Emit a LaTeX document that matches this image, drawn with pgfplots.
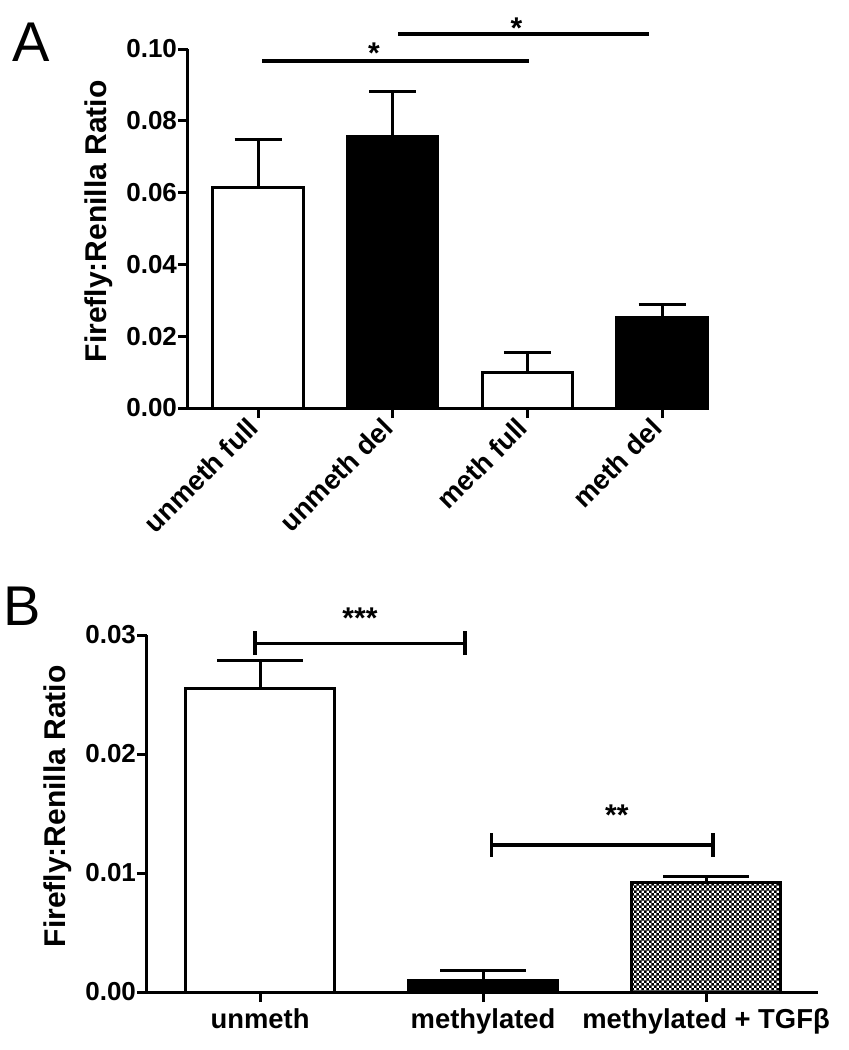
\documentclass[border=0pt]{standalone}
\usepackage{pgfplots}
\pgfplotsset{compat=1.18}
\usepackage{fontspec}
\setmainfont{Liberation Sans}
\usetikzlibrary{patterns.meta}

\tikzdeclarepattern{
  name=finecheck,
  bottom left={(0pt,0pt)},
  top right={(2.6pt,2.6pt)},
  tile size={(2.6pt,2.6pt)},
  code={
    \fill (0pt,0pt) rectangle (1.5pt,1.5pt);
    \fill (1.3pt,1.3pt) rectangle (2.8pt,2.8pt);
  }
}

\pgfplotsset{
  prism/.style={
    scale only axis,
    axis x line=bottom,
    axis y line=left,
    axis line style={-, line width=1.5pt},
    tick style={line width=1.5pt, black},
    major tick length=5pt,
    tick align=outside,
    ymin=0,
    clip=false,
    scaled ticks=false,
    /pgf/number format/assume math mode=true,
    yticklabel style={xshift=3pt, font=\bfseries\fontsize{13}{15}\selectfont,
      /pgf/number format/.cd, fixed, fixed zerofill, precision=2},
    xticklabel style={font=\bfseries\fontsize{13.7}{15}\selectfont},
    ylabel style={font=\bfseries\fontsize{15}{17}\selectfont,
      at={(axis description cs:0,0.52)}, anchor=center},
    error bars/error mark=|,
  },
  mybar/.style={ybar, bar shift=0pt, bar width=0.67, draw=black, line width=1.5pt,
    error bars/.cd, y dir=plus, y explicit,
    error bar style={line width=1.5pt}, /pgfplots/.cd},
  sig/.style={sharp plot, no marks, black, line width=1.8pt, forget plot},
}

\begin{document}
\begin{tikzpicture}
\path[use as bounding box] (0pt,0pt) rectangle (424.5pt,-525pt);

\node[font=\fontsize{28}{30}\selectfont] at (15.75pt,-21pt) {A};
\node[font=\fontsize{28}{30}\selectfont] at (11.25pt,-303pt) {B};

% panel A
\begin{axis}[prism,
  at={(94pt,-204pt)}, anchor=south west,
  width=259.5pt, height=179.5pt,
  xmin=-0.52, xmax=3.334,
  ymax=0.10,
  ytick={0,0.02,0.04,0.06,0.08,0.10},
  xtick={0,1,2,3},
  xticklabels={unmeth full, unmeth del, meth full, meth del},
  xticklabel style={rotate=45, anchor=east},
  ylabel={Firefly:Renilla Ratio},
  ylabel style={yshift=44.5pt},
  error bars/error mark options={line width=1.5pt, mark size=11.75pt},
]
\addplot[mybar, fill=white] coordinates {(0,0.0613) +- (0,0.0134)};
\addplot[mybar, fill=black] coordinates {(1,0.0755) +- (0,0.0128)};
\addplot[mybar, fill=white] coordinates {(2,0.0098) +- (0,0.0058)};
\addplot[mybar, fill=black] coordinates {(3,0.0253) +- (0,0.0034)};
\addplot[sig] coordinates {(0.03,0.0967) (2.01,0.0967)};
\addplot[sig] coordinates {(1.04,0.1042) (2.90,0.1042)};
\node[font=\bfseries\fontsize{15}{17}\selectfont, yshift=-3pt] at (axis cs:0.86,0.1006) {*};
\node[font=\bfseries\fontsize{15}{17}\selectfont, yshift=-3pt] at (axis cs:1.92,0.1075) {*};
\end{axis}

% panel B
\begin{axis}[prism,
  at={(73.5pt,-496pt)}, anchor=south west,
  width=335.5pt, height=178.5pt,
  xmin=-0.507, xmax=2.502,
  ymax=0.03,
  ytick={0,0.01,0.02,0.03},
  xtick={0,1,2},
  xticklabels={unmeth, methylated, methylated + TGFβ},
  ylabel={Firefly:Renilla Ratio},
  ylabel style={yshift=44.75pt},
  error bars/error mark options={line width=1.5pt, mark size=21.5pt},
]
\addplot[mybar, fill=white] coordinates {(0,0.0255) +- (0,0.0024)};
\addplot[mybar, fill=black] coordinates {(1,0.0010) +- (0,0.0008)};
\addplot[mybar, pattern=finecheck, pattern color=black] coordinates {(2,0.0092) +- (0,0.0005)};
\addplot[sig] coordinates {(-0.022,0.0293) (0.92,0.0293)};
\addplot[sig] coordinates {(-0.022,0.0283) (-0.022,0.0303)};
\addplot[sig] coordinates {(0.92,0.0283) (0.92,0.0303)};
\addplot[sig] coordinates {(1.037,0.01235) (2.03,0.01235)};
\addplot[sig] coordinates {(1.037,0.01135) (1.037,0.01335)};
\addplot[sig] coordinates {(2.03,0.01135) (2.03,0.01335)};
\node[font=\bfseries\fontsize{15}{17}\selectfont, yshift=-3pt] at (axis cs:0.448,0.0319) {***};
\node[font=\bfseries\fontsize{15}{17}\selectfont, yshift=-3pt] at (axis cs:1.6,0.01538) {**};
\end{axis}
\end{tikzpicture}
\end{document}
